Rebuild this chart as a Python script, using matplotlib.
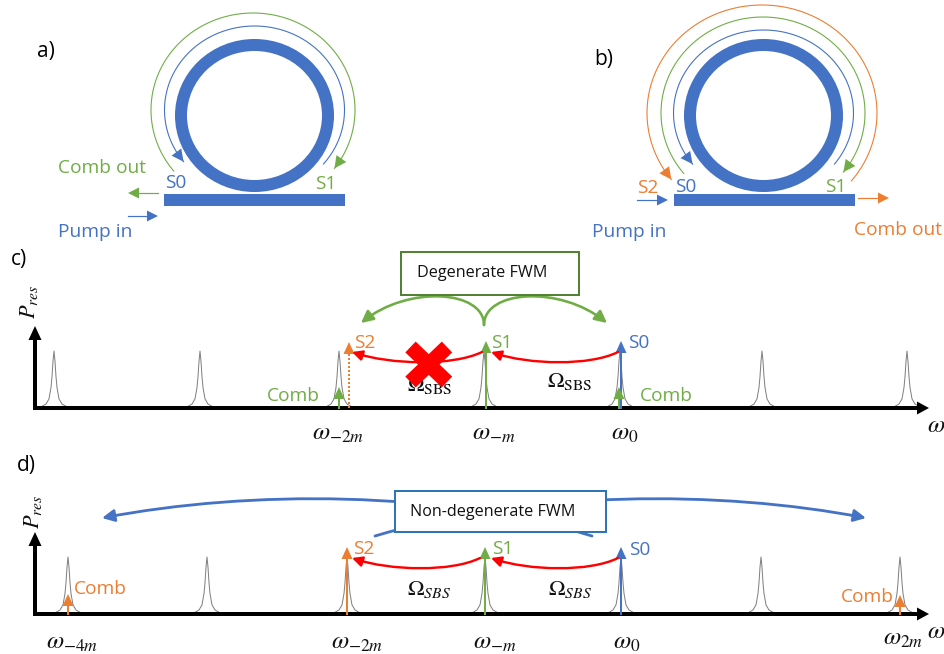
#!/usr/bin/env python3
"""Ring resonator cascade sketch with the two FWM spectra, laid out in picture pixels."""

import matplotlib
matplotlib.use('Agg')
import matplotlib.pyplot as plt
import numpy as np
from matplotlib.patches import Ellipse, FancyArrowPatch, Polygon, Rectangle
from matplotlib.path import Path

BLUE = '#4472c4'
GREEN = '#70ad47'
ORANGE = '#ed7d31'
RED = '#ff0000'
BOX_GREEN = '#548235'
BOX_BLUE = '#2e75b6'
PX = 0.72  # one pixel in points at dpi 100

# resonance positions along the frequency axis
RES_C = [54, 200, 339, 484, 620, 762, 907]
RES_D = [68, 207, 347, 485, 621, 761, 900]
# shape of one resonance: offset from centre, fraction of peak height
PEAK_DX = [-17, -12, -8, -5, -3, -2, -1, 0, 1, 2, 3, 5, 8, 12, 17]
PEAK_H = [0, .03, .07, .16, .36, .55, .82, 1, .82, .55, .36, .16, .07, .03, 0]

# (x, tip y, colour, dotted)
PUMPS_C = [(621, 341, BLUE, False), (619, 387, GREEN, False), (486, 341, GREEN, False),
           (349, 342, ORANGE, True), (339, 387, GREEN, False)]
PUMPS_D = [(621, 547, BLUE, False), (485, 547, GREEN, False), (347, 547, ORANGE, False),
           (68, 594, ORANGE, False), (900, 595, ORANGE, False)]

# tick label text, x, y
TICKS_C = [(r'$\omega_{-2m}$', 338, 433), (r'$\omega_{-m}$', 494, 433), (r'$\omega_{0}$', 625, 433)]
TICKS_D = [(r'$\omega_{-4m}$', 72, 642), (r'$\omega_{-2m}$', 357, 642), (r'$\omega_{-m}$', 495, 642),
           (r'$\omega_{0}$', 627, 642), (r'$\omega_{2m}$', 903, 638)]

# panel letters: text, left x, centre y
PANELS = [('a)', 37, 52), ('b)', 594, 60), ('c)', 11, 260), ('d)', 17, 465)]

# label text, left x, centre y, colour
LABELS = [
    ('Comb out', 58, 168, GREEN), ('S0', 165, 183, BLUE), ('S1', 315, 184, GREEN), ('Pump in', 58, 232, BLUE),
    ('S2', 637, 188, ORANGE), ('S0', 675, 187, BLUE), ('S1', 825, 187, GREEN), ('Pump in', 592, 232, BLUE),
    ('Comb out', 854, 230, ORANGE),
    ('S2', 354, 343, ORANGE), ('S1', 491, 343, GREEN), ('S0', 628, 343, BLUE),
    ('Comb', 267, 396, GREEN), ('Comb', 640, 396, GREEN),
    ('S2', 353, 549, ORANGE), ('S1', 492, 549, GREEN), ('S0', 629, 550, BLUE),
    ('Comb', 74, 589, ORANGE), ('Comb', 841, 597, ORANGE),
]

# ring arcs: centre x, centre y, x radius, y radius, start and end angle, colour
ARCS = [
    (254.5, 110, 90, 84, -40, 218, BLUE), (253, 110, 102, 97, 219, -37, GREEN),
    (763.5, 113, 90, 83, -38, 218, BLUE), (763, 113, 102, 96, 219, -38, GREEN),
    (762, 113, 115, 108, -39, 218, ORANGE),
]

# red SBS links: start x, end x, y
SBS_LINKS = [(618, 491, 352), (482, 352, 352), (618, 491, 558), (480, 352, 558)]


def head(ax, tip, direction, color, length=12, width=11, zorder=4):
    d = np.asarray(direction, dtype=float)
    d = d / np.hypot(*d)
    n = np.array([-d[1], d[0]])
    tip = np.asarray(tip, dtype=float)
    base = tip - d * length
    ax.add_patch(Polygon([tip, base + n * width / 2, base - n * width / 2],
                         closed=True, facecolor=color, edgecolor='none', zorder=zorder))


def ring(ax, cx, guide_x):
    ax.add_patch(Ellipse((cx, 115.5), 147, 141, fill=False, edgecolor=BLUE, linewidth=12 * PX))
    ax.add_patch(Rectangle((guide_x, 194), 181, 12, facecolor=BLUE, edgecolor='none'))


def ring_arc(ax, cx, cy, rx, ry, start, end, color):
    t = np.radians(np.linspace(start, end, 120))
    x = cx + rx * np.cos(t)
    y = cy - ry * np.sin(t)
    ax.plot(x, y, color=color, lw=1.1 * PX)
    head(ax, (x[-1], y[-1]), (x[-1] - x[-4], y[-1] - y[-4]), color, length=12, width=12)


def straight(ax, tail, tip, color):
    ax.plot([tail[0], tip[0] - np.sign(tip[0] - tail[0]) * 6], [tail[1], tip[1]], color=color, lw=1.2 * PX)
    head(ax, tip, (tip[0] - tail[0], tip[1] - tail[1]), color, length=11, width=11)


def spectrum(ax, positions, pumps, base, top):
    height = base - top
    for x0 in positions:
        ax.plot(np.add(x0, PEAK_DX), base - np.multiply(PEAK_H, height), color='#808080', lw=1.0 * PX, zorder=1)
    # axes
    ax.plot([35, 918], [base, base], color='black', lw=4 * PX, solid_capstyle='butt', zorder=2)
    ax.plot([35, 35], [base + 2, base - 68], color='black', lw=4 * PX, solid_capstyle='butt', zorder=2)
    head(ax, (929, base), (1, 0), 'black', length=12, width=13)
    head(ax, (35, base - 82), (0, -1), 'black', length=14, width=13)
    for x, tip, color, dotted in pumps:
        ax.plot([x, x], [base, tip + 8], color=color, lw=2 * PX, ls=(0, (1, 1)) if dotted else '-', zorder=3)
        head(ax, (x, tip), (0, -1), color, length=12, width=11)


def bent(ax, points, color, lw, scale=15, zorder=2):
    path = Path(points, [Path.MOVETO, Path.CURVE4, Path.CURVE4, Path.CURVE4])
    ax.add_patch(FancyArrowPatch(path=path, arrowstyle='-|>', mutation_scale=scale, linewidth=lw * PX,
                                 color=color, shrinkA=0, shrinkB=0, zorder=zorder))


def main():
    plt.rcParams['font.family'] = ['Open Sans', 'DejaVu Sans']
    plt.rcParams['mathtext.fontset'] = 'stix'
    fig = plt.figure(figsize=(9.44, 6.54), dpi=100)
    ax = fig.add_axes([0, 0, 1, 1])
    ax.set_xlim(0, 944)
    ax.set_ylim(654, 0)
    ax.axis('off')

    # a) and b) rings
    ring(ax, 254.5, 164)
    ring(ax, 763.5, 674)
    for cx, cy, rx, ry, start, end, color in ARCS:
        ring_arc(ax, cx, cy, rx, ry, start, end, color)
    straight(ax, (158, 193), (128, 193), GREEN)
    straight(ax, (128, 216), (158, 216), BLUE)
    straight(ax, (637, 200), (668, 200), BLUE)
    straight(ax, (858, 198), (889, 198), ORANGE)

    # c) and d) spectra
    spectrum(ax, RES_C, PUMPS_C, 408, 351)
    spectrum(ax, RES_D, PUMPS_D, 614, 557)

    for x0, x1, y in SBS_LINKS:
        span = x1 - x0
        bent(ax, [(x0, y), (x0 + span * 0.22, y + 14), (x0 + span * 0.7, y + 13), (x1, y)],
             RED, 2.4, scale=15, zorder=4)

    bent(ax, [(484, 325), (484, 290), (408, 285), (361, 323)], GREEN, 2.6, scale=18)
    bent(ax, [(484, 325), (484, 290), (560, 285), (607, 323)], GREEN, 2.6, scale=18)
    bent(ax, [(592, 536), (440, 490), (250, 490), (102, 518)], BLUE, 2.8, scale=18)
    bent(ax, [(375, 536), (530, 490), (720, 490), (866, 518)], BLUE, 2.8, scale=18)

    ax.add_patch(Rectangle((401, 252), 178, 43, facecolor='white', edgecolor=BOX_GREEN, linewidth=2 * PX, zorder=5))
    ax.text(482, 273, 'Degenerate FWM', ha='center', va='center', fontsize=11.6, color='#111111', zorder=6)
    ax.add_patch(Rectangle((395, 491), 211, 41, facecolor='white', edgecolor=BOX_BLUE, linewidth=2 * PX, zorder=5))
    ax.text(493, 512, 'Non-degenerate FWM', ha='center', va='center', fontsize=11.6, color='#111111', zorder=6)

    # text sits under the cross on purpose, the reference hides part of the symbol
    ax.text(430, 386, r'$\Omega_{\mathrm{SBS}}$', ha='center', va='center', fontsize=16, color='#111111', zorder=3)
    ax.text(570, 382, r'$\Omega_{\mathrm{SBS}}$', ha='center', va='center', fontsize=16, color='#111111', zorder=3)
    ax.text(429, 590, r'$\mathit{\Omega}_{SBS}$', ha='center', va='center', fontsize=16, color='#111111')
    ax.text(570, 590, r'$\mathit{\Omega}_{SBS}$', ha='center', va='center', fontsize=16, color='#111111')

    ax.plot([410.5, 447], [347, 382], color=RED, lw=15 * PX, solid_capstyle='butt', zorder=7)
    ax.plot([447, 410.5], [347, 382], color=RED, lw=15 * PX, solid_capstyle='butt', zorder=7)

    for text, x, y in TICKS_C + TICKS_D:
        ax.text(x, y, text, ha='center', va='center', fontsize=18, color='#111111')
    ax.text(936, 426, r'$\omega$', ha='center', va='center', fontsize=18, color='#111111')
    ax.text(936, 632, r'$\omega$', ha='center', va='center', fontsize=18, color='#111111')
    ax.text(29, 302, r'$P_{res}$', rotation=90, ha='center', va='center', fontsize=16, color='#111111')
    ax.text(33, 512, r'$P_{res}$', rotation=90, ha='center', va='center', fontsize=16, color='#111111')

    for text, x, y in PANELS:
        ax.text(x, y, text, ha='left', va='center', fontsize=15, color='black', zorder=6)
    for text, x, y, color in LABELS:
        ax.text(x, y, text, ha='left', va='center', fontsize=13.8, color=color, zorder=6)

    fig.savefig('out.png', dpi=100, facecolor='white')
    plt.close(fig)


if __name__ == '__main__':
    main()
